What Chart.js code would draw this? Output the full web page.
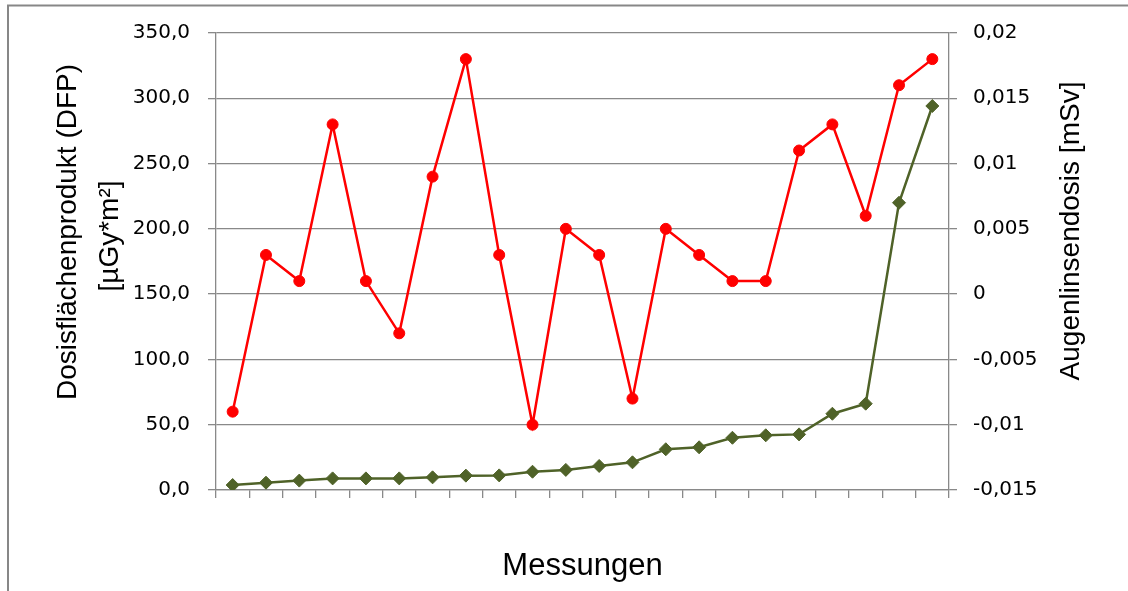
<!DOCTYPE html>
<html lang="de">
<head>
<meta charset="utf-8">
<title>Dosisflächenprodukt und Augenlinsendosis</title>
<script src="https://cdn.jsdelivr.net/npm/chart.js@4/dist/chart.umd.min.js"></script>
<style>
  html, body { margin: 0; padding: 0; background: #ffffff; }
  #wrap { position: relative; width: 1128px; height: 591px; }
</style>
</head>
<body>
<div id="wrap"><canvas id="chart" width="1128" height="591"></canvas></div>
<script>
// Messungen (one entry per measurement, unlabelled on the axis)
const messungen = ['1','2','3','4','5','6','7','8','9','10','11','12','13','14','15','16','17','18','19','20','21','22'];

// Dosisflächenprodukt (DFP) in µGy*m², left axis
const dfpWerte = [3.8, 5.6, 7.2, 8.9, 8.9, 8.9, 9.7, 11.0, 11.2, 14.0, 15.4, 18.4, 21.2, 31.2, 32.7, 40.0, 41.9, 42.6, 58.4, 66.1, 220.0, 294.1];

// Augenlinsendosis in mSv, right axis
const augenlinsendosis = [-0.009, 0.003, 0.001, 0.013, 0.001, -0.003, 0.009, 0.018, 0.003, -0.010, 0.005, 0.003, -0.008, 0.005, 0.003, 0.001, 0.001, 0.011, 0.013, 0.006, 0.016, 0.018];

// Axis ranges and titles
const dfpAchse = { min: 0, max: 350, step: 50 };
const dosisAchse = { min: -0.015, max: 0.02, step: 0.005 };
const titelLinks = ['Dosisflächenprodukt (DFP)', '[µGy*m²]'];
const titelRechts = 'Augenlinsendosis [mSv]';
const titelUnten = 'Messungen';

const GRID = '#898989';
const TITLE_FONT = '28px "Liberation Sans", Arial, sans-serif';

Chart.defaults.font.family = '"DejaVu Sans", sans-serif';
Chart.defaults.color = '#000000';

// Outer frame and the two vertical axis titles (both read bottom-to-top)
const rahmenUndTitel = {
  id: 'rahmenUndTitel',
  beforeDraw(chart) {
    const ctx = chart.ctx;
    ctx.save();
    ctx.strokeStyle = '#878787';
    ctx.lineWidth = 2;
    ctx.beginPath();
    ctx.moveTo(8, 591);
    ctx.lineTo(8, 5.5);
    ctx.lineTo(1128, 5.5);
    ctx.stroke();
    ctx.restore();
  },
  afterDraw(chart) {
    const ctx = chart.ctx;
    const vertikal = (text, x, y) => {
      ctx.save();
      ctx.translate(x, y);
      ctx.rotate(-Math.PI / 2);
      ctx.font = TITLE_FONT;
      ctx.fillStyle = '#000000';
      ctx.textAlign = 'center';
      ctx.textBaseline = 'alphabetic';
      ctx.fillText(text, 0, 0);
      ctx.restore();
    };
    vertikal(titelLinks[0], 76, 232);
    vertikal(titelLinks[1], 118, 236);
    vertikal(titelRechts, 1079, 231);
  }
};

const dezimalKomma = (v, stellen) => v.toFixed(stellen).replace('.', ',');

new Chart(document.getElementById('chart'), {
  type: 'line',
  data: {
    labels: messungen,
    datasets: [
      {
        label: 'Augenlinsendosis [mSv]',
        data: augenlinsendosis,
        yAxisID: 'y1',
        borderColor: '#FF0000',
        backgroundColor: '#FF0000',
        borderWidth: 2.5,
        pointStyle: 'circle',
        pointRadius: 5.5,
        pointBorderWidth: 1,
        tension: 0
      },
      {
        label: 'Dosisflächenprodukt (DFP) [µGy*m²]',
        data: dfpWerte,
        yAxisID: 'y',
        borderColor: '#4F6228',
        backgroundColor: '#4F6228',
        borderWidth: 2.5,
        pointStyle: 'rectRot',
        pointRadius: 6.5,
        pointBorderWidth: 1,
        tension: 0
      }
    ]
  },
  options: {
    responsive: false,
    devicePixelRatio: 1,
    animation: false,
    events: [],
    layout: { padding: { top: 33, left: 0, right: 0, bottom: 0 } },
    plugins: {
      legend: { display: false },
      tooltip: { enabled: false }
    },
    scales: {
      x: {
        type: 'category',
        offset: true,
        grid: { offset: true, drawOnChartArea: false, drawTicks: true, tickLength: 8, color: GRID, lineWidth: 1.3 },
        border: { display: true, color: GRID, width: 1.3 },
        ticks: { display: false, autoSkip: false },
        title: {
          display: true,
          text: titelUnten,
          font: { family: '"Liberation Sans", Arial, sans-serif', size: 31, lineHeight: 1.2 },
          padding: { top: 0, bottom: 6 },
          color: '#000000'
        },
        afterFit(scale) { scale.height = 101; }
      },
      y: {
        position: 'left',
        min: dfpAchse.min,
        max: dfpAchse.max,
        ticks: {
          stepSize: dfpAchse.step,
          padding: 18,
          font: { size: 20 },
          callback: (v) => dezimalKomma(v, 1)
        },
        grid: { color: GRID, lineWidth: 1.3, drawTicks: true, tickLength: 8 },
        border: { display: true, color: GRID, width: 1.3 },
        afterFit(scale) { scale.width = 216; }
      },
      y1: {
        position: 'right',
        min: dosisAchse.min,
        max: dosisAchse.max,
        ticks: {
          stepSize: dosisAchse.step,
          padding: 16,
          font: { size: 20 },
          callback: (v) => String(Number(v.toFixed(3))).replace('.', ',')
        },
        grid: { drawOnChartArea: false, color: GRID, lineWidth: 1.3, drawTicks: true, tickLength: 8 },
        border: { display: true, color: GRID, width: 1.3 },
        afterFit(scale) { scale.width = 179; }
      }
    }
  },
  plugins: [rahmenUndTitel]
});
</script>
</body>
</html>
